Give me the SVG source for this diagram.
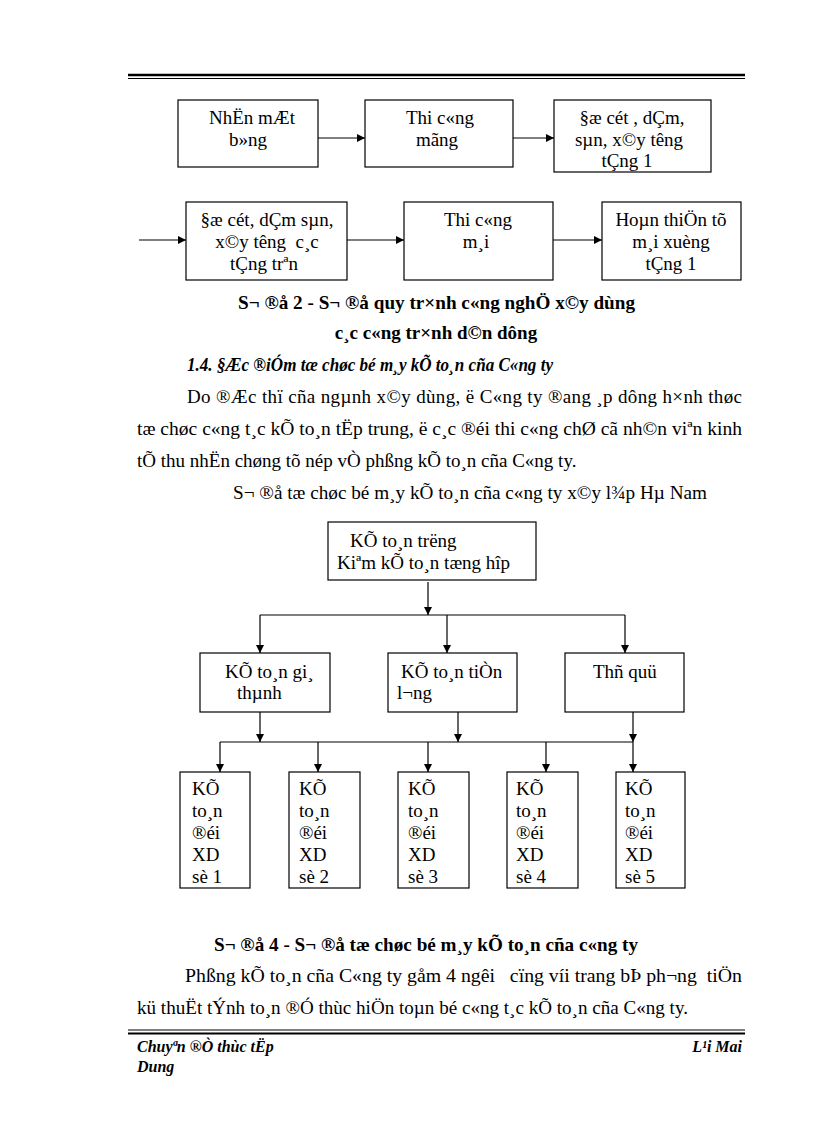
<svg xmlns="http://www.w3.org/2000/svg" width="816" height="1123" viewBox="0 0 816 1123">
<defs>
<style>
.t{font-family:"Liberation Serif","Times New Roman",serif;font-size:19px;fill:#000;white-space:pre}
.b{font-family:"Liberation Serif","Times New Roman",serif;font-size:19px;fill:#000;white-space:pre}
.f{font-family:"Liberation Serif","Times New Roman",serif;font-size:16px;fill:#000;font-weight:bold;font-style:italic}
.bx{fill:#fff;stroke:#000;stroke-width:1.2}
.c{stroke:#000;stroke-width:1.2;fill:none}
.bold{font-weight:bold}
.it{font-style:italic}
.mid{text-anchor:middle}
</style>
<marker id="ah" markerWidth="8" markerHeight="8" refX="8" refY="4" orient="auto" markerUnits="userSpaceOnUse">
<path d="M0,0 L8,4 L0,8 Z" fill="#000"/>
</marker>
</defs>
<rect width="816" height="1123" fill="#fff"/>
<g id="header">
<line x1="128" y1="75" x2="745" y2="75" stroke="#000" stroke-width="2.5"/>
<line x1="128" y1="78.5" x2="745" y2="78.5" stroke="#000" stroke-width="1"/>
</g>
<g id="connectors">
<line class="c" x1="318" y1="138" x2="365" y2="138" marker-end="url(#ah)"/>
<line class="c" x1="513" y1="138" x2="554" y2="138" marker-end="url(#ah)"/>
<line class="c" x1="139" y1="240" x2="186" y2="240" marker-end="url(#ah)"/>
<line class="c" x1="347" y1="240" x2="404" y2="240" marker-end="url(#ah)"/>
<line class="c" x1="553" y1="240" x2="602" y2="240" marker-end="url(#ah)"/>
<line class="c" x1="428" y1="582" x2="428" y2="615" marker-end="url(#ah)"/>
<line class="c" x1="260" y1="615" x2="625" y2="615"/>
<line class="c" x1="260" y1="615" x2="260" y2="653" marker-end="url(#ah)"/>
<line class="c" x1="447" y1="615" x2="447" y2="653" marker-end="url(#ah)"/>
<line class="c" x1="625" y1="615" x2="625" y2="653" marker-end="url(#ah)"/>
<line class="c" x1="260" y1="712" x2="260" y2="742" marker-end="url(#ah)"/>
<line class="c" x1="458" y1="712" x2="458" y2="742" marker-end="url(#ah)"/>
<line class="c" x1="633" y1="712" x2="633" y2="742" marker-end="url(#ah)"/>
<line class="c" x1="220" y1="742" x2="633" y2="742"/>
<line class="c" x1="220" y1="742" x2="220" y2="772" marker-end="url(#ah)"/>
<line class="c" x1="318" y1="742" x2="318" y2="772" marker-end="url(#ah)"/>
<line class="c" x1="428" y1="742" x2="428" y2="772" marker-end="url(#ah)"/>
<line class="c" x1="546" y1="742" x2="546" y2="772" marker-end="url(#ah)"/>
<line class="c" x1="633" y1="742" x2="633" y2="772" marker-end="url(#ah)"/>
</g>
<g id="n1"><rect class="bx" x="178" y="100" width="140" height="67"/>
<text class="b mid" x="252" y="124">NhËn mÆt</text><text class="b mid" x="248" y="146">b»ng</text></g>
<g id="n2"><rect class="bx" x="365" y="100" width="148" height="67"/>
<text class="b mid" x="440" y="124">Thi c«ng</text><text class="b mid" x="437" y="146">mãng</text></g>
<g id="n3"><rect class="bx" x="554" y="100" width="157" height="72"/>
<text class="b mid" x="632" y="124">§æ cét , dÇm,</text><text class="b mid" x="629" y="146">sµn, x©y têng</text><text class="b mid" x="627" y="167">tÇng 1</text></g>
<g id="n4"><rect class="bx" x="186" y="202" width="161" height="78"/>
<text class="b mid" x="267" y="226">§æ cét, dÇm sµn,</text><text class="b mid" x="267" y="248">x©y têng  c¸c</text><text class="b mid" x="264" y="270">tÇng tr­ªn</text></g>
<g id="n5"><rect class="bx" x="404" y="202" width="149" height="78"/>
<text class="b mid" x="478" y="226">Thi c«ng</text><text class="b mid" x="476" y="248">m¸i</text></g>
<g id="n6"><rect class="bx" x="602" y="202" width="139" height="78"/>
<text class="b mid" x="671" y="226">Hoµn thiÖn tõ</text><text class="b mid" x="671" y="248">m¸i xuèng</text><text class="b mid" x="671" y="270">tÇng 1</text></g>
<g id="text1">
<text class="t bold" x="238" y="309" textLength="397" lengthAdjust="spacingAndGlyphs">S¬ ®å 2 - S¬ ®å quy tr×nh c«ng nghÖ x©y dùng</text>
<text class="t bold mid" x="436" y="339">c¸c c«ng tr×nh d©n dông</text>
<text class="t bold it" x="187" y="371" textLength="366" lengthAdjust="spacingAndGlyphs">1.4. §Æc ®iÓm tæ chøc bé m¸y kÕ to¸n cña C«ng ty</text>
<text class="t" x="187" y="403" textLength="555" lengthAdjust="spacing">Do ®Æc thï cña ngµnh x©y dùng, ë C«ng ty ®ang ¸p dông h×nh thøc</text>
<text class="t" x="137" y="435" textLength="605" lengthAdjust="spacingAndGlyphs">tæ chøc c«ng t¸c kÕ to¸n tËp trung, ë c¸c ®éi thi c«ng chØ cã nh©n viªn kinh</text>
<text class="t" x="137" y="467">tÕ thu nhËn chøng tõ nép vÒ phßng kÕ to¸n cña C«ng ty.</text>
<text class="t" x="233" y="499" textLength="474" lengthAdjust="spacingAndGlyphs">S¬ ®å tæ chøc bé m¸y kÕ to¸n cña c«ng ty x©y l¾p Hµ Nam</text>
</g>
<g id="o1"><rect class="bx" x="328" y="522" width="208" height="58"/>
<text class="b" x="350" y="547">KÕ to¸n tr­ëng</text><text class="b" x="337" y="569">Kiªm kÕ to¸n tæng hîp</text></g>
<g id="o2"><rect class="bx" x="200" y="653" width="130" height="59"/>
<text class="b" x="225" y="678">KÕ to¸n gi¸</text><text class="b" x="237" y="699">thµnh</text></g>
<g id="o3"><rect class="bx" x="388" y="653" width="129" height="59"/>
<text class="b" x="401" y="678">KÕ to¸n tiÒn</text><text class="b" x="397" y="699">l¬ng</text></g>
<g id="o4"><rect class="bx" x="565" y="653" width="119" height="59"/>
<text class="b" x="593" y="678">Thñ quü</text></g>
<g id="d1"><rect class="bx" x="180" y="772" width="70" height="116"/>
<text class="b" x="192" y="795">KÕ</text><text class="b" x="192" y="817">to¸n</text><text class="b" x="192" y="839">®éi</text><text class="b" x="192" y="861">XD</text><text class="b" x="192" y="883">sè 1</text></g>
<g id="d2"><rect class="bx" x="289" y="772" width="71" height="116"/>
<text class="b" x="299" y="795">KÕ</text><text class="b" x="299" y="817">to¸n</text><text class="b" x="299" y="839">®éi</text><text class="b" x="299" y="861">XD</text><text class="b" x="299" y="883">sè 2</text></g>
<g id="d3"><rect class="bx" x="398" y="772" width="71" height="116"/>
<text class="b" x="408" y="795">KÕ</text><text class="b" x="408" y="817">to¸n</text><text class="b" x="408" y="839">®éi</text><text class="b" x="408" y="861">XD</text><text class="b" x="408" y="883">sè 3</text></g>
<g id="d4"><rect class="bx" x="507" y="772" width="71" height="116"/>
<text class="b" x="516" y="795">KÕ</text><text class="b" x="516" y="817">to¸n</text><text class="b" x="516" y="839">®éi</text><text class="b" x="516" y="861">XD</text><text class="b" x="516" y="883">sè 4</text></g>
<g id="d5"><rect class="bx" x="616" y="772" width="69" height="116"/>
<text class="b" x="625" y="795">KÕ</text><text class="b" x="625" y="817">to¸n</text><text class="b" x="625" y="839">®éi</text><text class="b" x="625" y="861">XD</text><text class="b" x="625" y="883">sè 5</text></g>
<g id="text2">
<text class="t bold" x="214" y="951" textLength="424" lengthAdjust="spacingAndGlyphs">S¬ ®å 4 - S¬ ®å tæ chøc bé m¸y kÕ to¸n cña c«ng ty</text>
<text class="t" x="185" y="982" textLength="557" lengthAdjust="spacingAndGlyphs">Phßng kÕ to¸n cña C«ng ty gåm 4 ngêi   cïng víi trang bÞ ph¬ng  tiÖn</text>
<text class="t" x="137" y="1014" textLength="551" lengthAdjust="spacingAndGlyphs">kü thuËt tÝnh to¸n ®Ó thùc hiÖn toµn bé c«ng t¸c kÕ to¸n cña C«ng ty.</text>
</g>
<g id="footer">
<line x1="128" y1="1030" x2="745" y2="1030" stroke="#000" stroke-width="1"/>
<line x1="128" y1="1033.5" x2="745" y2="1033.5" stroke="#000" stroke-width="2"/>
<text class="f" x="137" y="1052">Chuyªn ®Ò thùc tËp</text>
<text class="f" x="137" y="1072">Dung</text>
<text class="f" x="742" y="1052" text-anchor="end">L¹i Mai</text>
</g>
</svg>
